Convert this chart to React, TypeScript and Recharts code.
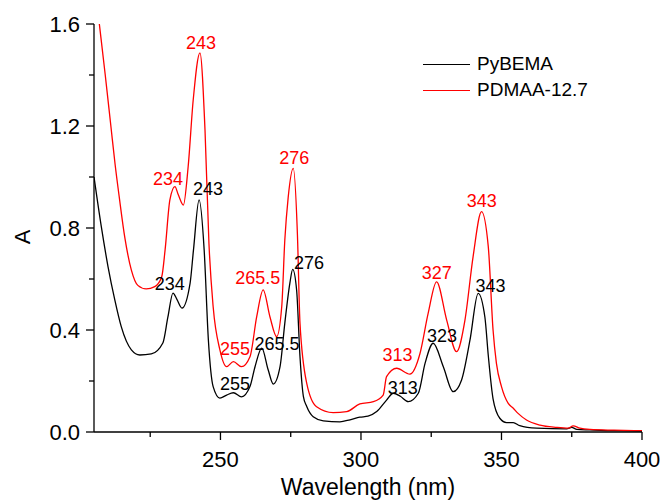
import { LineChart, Line, XAxis, YAxis, ReferenceDot } from "recharts";

const FONT = '"Liberation Sans", Arial, Helvetica, sans-serif';

// PyBEMA spectrum (black)
const pybemaNm = [
  205, 207.6, 210, 212.4, 214.7, 218.3, 221.3, 225.4, 229.5, 231.3, 233.1, 234.5, 236.3, 239.2, 240.4,
  242.4, 244.2, 245.7, 247.4, 249.8, 252.2, 254.6, 257.5, 260.5, 262.3, 264.7, 267, 268.8, 271.2, 272.9,
  274.7, 275.7, 277.1, 278.3, 279.5, 280.7, 283, 286.6, 292.5, 296.1, 299.6, 302.5, 305.6, 309.1, 311.5,
  314, 316.8, 320.4, 322.8, 325.7, 329.3, 332.8, 335.8, 338.8, 341.7, 344.1, 345.3, 347, 349.4, 351.8,
  354.2, 356.5, 362.5, 373.2, 375, 376.8, 381.5, 390, 400,
];
const pybemaA = [
  1.0, 0.805, 0.648, 0.518, 0.413, 0.322, 0.302, 0.306, 0.349, 0.451, 0.545, 0.52, 0.486, 0.584, 0.714,
  0.91, 0.714, 0.361, 0.178, 0.133, 0.145, 0.154, 0.138, 0.178, 0.256, 0.329, 0.243, 0.188, 0.256, 0.427,
  0.584, 0.638, 0.557, 0.295, 0.14, 0.1, 0.06, 0.044, 0.04, 0.048, 0.058, 0.062, 0.08, 0.125, 0.152,
  0.14, 0.119, 0.152, 0.269, 0.348, 0.256, 0.158, 0.204, 0.361, 0.544, 0.45, 0.3, 0.13, 0.054, 0.037,
  0.037, 0.025, 0.015, 0.012, 0.018, 0.01, 0.008, 0.005, 0.004,
];

// PDMAA-12.7 spectrum (red)
const pdmaaNm = [
  205, 206.9, 209, 211, 212.5, 214, 216, 218.3, 220.6, 223.6, 226.6, 229.1, 230.3, 232, 233.8, 235,
  236.8, 238.5, 240.3, 242.7, 244.5, 245.9, 247.4, 249.8, 252.2, 254.6, 257.5, 260.5, 262.9, 265.2,
  267.6, 270, 271.8, 272.9, 274.1, 275.9, 277.4, 278.3, 280.7, 284.2, 290.1, 294.9, 299.6, 304.4, 307.9,
  309.1, 312.7, 317.4, 321, 323.9, 326.9, 330.5, 334, 337, 339.9, 342.9, 345.3, 347, 348.2, 350, 352.4,
  354.2, 355.9, 358.9, 363.7, 369.6, 373.8, 375.5, 377.9, 381.5, 390, 400,
];
const pdmaaA = [
  1.78, 1.6, 1.4, 1.2, 1.05, 0.92, 0.76, 0.635, 0.575, 0.561, 0.57, 0.609, 0.714, 0.91, 0.962, 0.93,
  0.89, 1.04, 1.302, 1.487, 1.184, 0.74, 0.491, 0.322, 0.256, 0.276, 0.256, 0.295, 0.452, 0.557,
  0.452, 0.374, 0.491, 0.753, 0.92, 1.034, 0.77, 0.426, 0.191, 0.099, 0.076, 0.08, 0.11, 0.119, 0.145,
  0.217, 0.25, 0.227, 0.308, 0.465, 0.589, 0.439, 0.315, 0.439, 0.688, 0.864, 0.727, 0.4, 0.269, 0.178, 0.112,
  0.093, 0.073, 0.047, 0.027, 0.018, 0.015, 0.024, 0.015, 0.01, 0.007, 0.005,
];

const xTicks = [225, 250, 275, 300, 325, 350, 375, 400];
const xMajorTicks = [250, 300, 350, 400];
const yTicks = [0, 0.2, 0.4, 0.6, 0.8, 1.0, 1.2, 1.4, 1.6];

// peak annotations: text, wavelength, absorbance of the text centre
const redPeakText = ["243", "234", "276", "265.5", "255", "313", "327", "343"];
const redPeakNm = [243.1, 231.3, 276.3, 263.3, 255.2, 313.0, 327.0, 343.0];
const redPeakA = [1.529, 0.996, 1.075, 0.604, 0.329, 0.302, 0.624, 0.906];

const blackPeakText = ["243", "234", "276", "265.5", "255", "313", "323", "343"];
const blackPeakNm = [245.6, 232.0, 281.5, 270.1, 255.2, 314.9, 328.8, 346.1];
const blackPeakA = [0.953, 0.584, 0.663, 0.349, 0.192, 0.173, 0.38, 0.576];

const pybemaData = pybemaNm.map((nm, i) => ({ nm, a: pybemaA[i] }));
const pdmaaData = pdmaaNm.map((nm, i) => ({ nm, a: pdmaaA[i] }));

const XTick = ({ x, y, payload }: any) => {
  const major = xMajorTicks.includes(payload.value);
  return (
    <g>
      <line x1={x} x2={x} y1={y} y2={y + (major ? 8 : 5)} stroke="#000" strokeWidth={1.3} />
      {major && (
        <text x={x} y={y + 35} textAnchor="middle" fontSize={22} fontFamily={FONT} fill="#000">
          {payload.value}
        </text>
      )}
    </g>
  );
};

const YTick = ({ x, y, payload }: any) => {
  const v = payload.value;
  const major = Math.abs(v / 0.4 - Math.round(v / 0.4)) < 1e-6;
  return (
    <g>
      <line x1={x - (major ? 8 : 5)} x2={x} y1={y} y2={y} stroke="#000" strokeWidth={1.3} />
      {major && (
        <text x={x - 14} y={y + 7.5} textAnchor="end" fontSize={22} fontFamily={FONT} fill="#000">
          {v.toFixed(1)}
        </text>
      )}
    </g>
  );
};

const peakLabel = (text: string, color: string) => (p: any) => (
  <text x={p.cx} y={p.cy + 6.5} textAnchor="middle" fontSize={18} fontFamily={FONT} fill={color}>
    {text}
  </text>
);

const YLabel = ({ viewBox }: any) => {
  const cy = viewBox.y + viewBox.height / 2 + 9;
  return (
    <text x={30} y={cy} transform={`rotate(-90, 30, ${cy})`} textAnchor="middle" fontSize={22} fontFamily={FONT} fill="#000">
      A
    </text>
  );
};

const legendItems = [
  { name: "PyBEMA", color: "#000000" },
  { name: "PDMAA-12.7", color: "#ff0000" },
];

export default function App() {
  return (
    <div style={{ position: "absolute", left: 0, top: 0, width: 664, height: 502, background: "#fff" }}>
      <LineChart width={664} height={502} margin={{ top: 24, right: 22, bottom: 0, left: 0 }}>
        <XAxis
          type="number"
          dataKey="nm"
          domain={[205, 400]}
          allowDataOverflow
          ticks={xTicks}
          interval={0}
          tick={<XTick />}
          tickLine={false}
          tickSize={0}
          tickMargin={0}
          height={70}
          axisLine={{ stroke: "#000", strokeWidth: 1.3 }}
          label={{ value: "Wavelength (nm)", position: "insideBottom", offset: 7, fontSize: 23, fontFamily: FONT, fill: "#000" }}
        />
        <XAxis
          xAxisId="top"
          orientation="top"
          type="number"
          dataKey="nm"
          domain={[205, 400]}
          height={0}
          tick={false}
          tickLine={false}
          axisLine={{ stroke: "#000", strokeWidth: 1.3 }}
        />
        <YAxis
          type="number"
          domain={[0, 1.6]}
          allowDataOverflow
          ticks={yTicks}
          interval={0}
          tick={<YTick />}
          tickLine={false}
          tickSize={0}
          tickMargin={0}
          width={94}
          axisLine={{ stroke: "#000", strokeWidth: 1.3 }}
          label={<YLabel />}
        />
        <YAxis
          yAxisId="right"
          orientation="right"
          type="number"
          domain={[0, 1.6]}
          width={0}
          tick={false}
          tickLine={false}
          axisLine={{ stroke: "#000", strokeWidth: 1.3 }}
        />
        <Line
          data={pybemaData}
          dataKey="a"
          type="monotone"
          stroke="#000000"
          strokeWidth={1.3}
          dot={false}
          activeDot={false}
          isAnimationActive={false}
        />
        <Line
          data={pdmaaData}
          dataKey="a"
          type="monotone"
          stroke="#ff0000"
          strokeWidth={1.3}
          dot={false}
          activeDot={false}
          isAnimationActive={false}
        />
        {redPeakText.map((t, i) => (
          <ReferenceDot key={"r" + i} x={redPeakNm[i]} y={redPeakA[i]} r={0} shape={peakLabel(t, "#ff0000")} />
        ))}
        {blackPeakText.map((t, i) => (
          <ReferenceDot key={"b" + i} x={blackPeakNm[i]} y={blackPeakA[i]} r={0} shape={peakLabel(t, "#000000")} />
        ))}
      </LineChart>
      <div style={{ position: "absolute", left: 423, top: 51, fontFamily: FONT, fontSize: 19, color: "#000" }}>
        {legendItems.map((item) => (
          <div key={item.name} style={{ display: "flex", alignItems: "center", height: 26 }}>
            <span style={{ display: "inline-block", width: 47, borderTop: `1.3px solid ${item.color}`, marginRight: 7 }} />
            <span>{item.name}</span>
          </div>
        ))}
      </div>
    </div>
  );
}
